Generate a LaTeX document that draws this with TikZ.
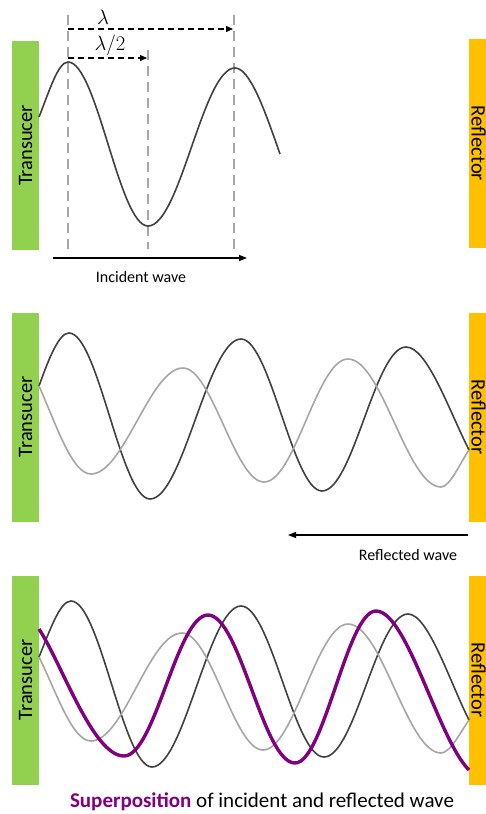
\documentclass[tikz,border=0pt]{standalone}
\usepackage{fontspec}
\setmainfont{Carlito}
\usetikzlibrary{arrows.meta}
\definecolor{trgreen}{RGB}{146,208,80}
\definecolor{rfyellow}{RGB}{255,192,0}
\definecolor{wavedark}{RGB}{64,64,64}
\definecolor{wavelight}{RGB}{166,166,166}
\definecolor{supviolet}{RGB}{128,0,128}
\newcommand{\barfont}{\fontsize{20.5}{24}\selectfont}
\newcommand{\lblfont}{\fontsize{16}{19}\selectfont}

\begin{document}
\begin{tikzpicture}[x=1pt,y=-1pt,
    transbar/.style={fill=trgreen, rotate=90, minimum width=209pt, minimum height=27pt, inner sep=0pt, font=\barfont},
    reflbar/.style={fill=rfyellow, rotate=-90, minimum width=209pt, minimum height=22pt, inner sep=0pt, text height=17pt, text depth=0pt, font=\barfont},
    incwave/.style={wavedark, line width=1.6pt},
    refwave/.style={wavelight, line width=1.6pt},
    supwave/.style={supviolet, line width=3.4pt},
    markline/.style={wavelight, line width=2.4pt, dash pattern=on 10pt off 6pt},
    lambdaspan/.style={line width=1.3pt, dash pattern=on 6pt off 4pt, -{Triangle[length=7pt,width=6pt]}},
    dirarrow/.style={line width=1.3pt, -{Triangle[length=8pt,width=6pt]}},
    lbl/.style={font=\lblfont}]
    \useasboundingbox (0,0) rectangle (486,814);
    \clip (0,0) rectangle (486,814);

    % incident wave
    \node[transbar] (trans1) at (25.5,145.5) {Transucer};
    \node[reflbar] (refl1) at (480,143.5) {Reflector};
    \draw[markline] (68,15) -- (68,249); \draw[markline] (148,50) -- (148,249); \draw[markline] (234,15) -- (234,249);
    \draw[incwave] (39,117) .. controls (49,92) and (58,62) .. (68,62) .. controls (97,62) and (119,226) .. (148,226)
        .. controls (180,226) and (203,68) .. (235,68) .. controls (250,68) and (265,111) .. (280,154);
    \coordinate (lamA) at (68,29); \coordinate (lamB) at (233,29);
    \coordinate (halfA) at (68,58); \coordinate (halfB) at (147,58);
    \draw[lambdaspan] (lamA) -- (lamB); \draw[lambdaspan] (halfA) -- (halfB);
    \node[font=\fontsize{20}{22}\selectfont] (lam) at (103,17) {$\lambda$};
    \node[font=\fontsize{20}{22}\selectfont] (halflam) at (110,45) {$\lambda/2$};
    \coordinate (incA) at (53,258); \coordinate (incB) at (247,258);
    \draw[dirarrow] (incA) -- (incB);
    \node[lbl] (inclbl) at (141,277) {Incident wave};

    % reflected wave
    \node[transbar] (trans2) at (25.5,417) {Transucer};
    \node[reflbar] (refl2) at (480,417) {Reflector};
    \draw[incwave] (39,386) .. controls (49,358) and (59,333) .. (69,333) .. controls (98,333) and (121,499) .. (150,499)
        .. controls (183,499) and (208,339) .. (241,339) .. controls (270,339) and (293,491) .. (322,491)
        .. controls (353,491) and (375,347) .. (406,347) .. controls (427,347) and (448,408) .. (469,450);
    \draw[refwave] (39,386) .. controls (56,424) and (72,474) .. (91,474) .. controls (124,474) and (150,368) .. (183,368)
        .. controls (212,368) and (235,482) .. (264,482) .. controls (295,482) and (317,359) .. (348,359)
        .. controls (382,359) and (407,487) .. (441,487) .. controls (450,487) and (460,463) .. (469,450);
    \coordinate (refA) at (468,535); \coordinate (refB) at (288,535);
    \draw[dirarrow] (refA) -- (refB);
    \node[lbl] (reflbl) at (408,555) {Reflected wave};

    % superposition
    \node[transbar] (trans3) at (25.5,680) {Transucer};
    \node[reflbar] (refl3) at (480,680) {Reflector};
    \draw[incwave] (39,657) .. controls (50,630) and (60,601) .. (71,601) .. controls (100,601) and (123,767) .. (152,767)
        .. controls (184,767) and (209,606) .. (241,606) .. controls (271,606) and (294,757) .. (324,757)
        .. controls (355,757) and (377,614) .. (408,614) .. controls (428,614) and (449,680) .. (469,720);
    \draw[refwave] (39,657) .. controls (56,691) and (72,741) .. (91,741) .. controls (124,741) and (149,633) .. (182,633)
        .. controls (211,633) and (234,750) .. (263,750) .. controls (294,750) and (317,624) .. (348,624)
        .. controls (382,624) and (407,753) .. (441,753) .. controls (450,753) and (460,733) .. (469,720);
    \draw[supwave] (39,629) .. controls (62,664) and (93,756) .. (124,756) .. controls (155,756) and (177,615) .. (208,615)
        .. controls (240,615) and (263,763) .. (295,763) .. controls (324,763) and (347,611) .. (376,611)
        .. controls (407,611) and (438,739) .. (469,770);
    \node[font=\fontsize{21}{24}\selectfont] (caption) at (262,802) {\textbf{\textcolor{supviolet}{Superposition}} of incident and reflected wave};
\end{tikzpicture}
\end{document}
